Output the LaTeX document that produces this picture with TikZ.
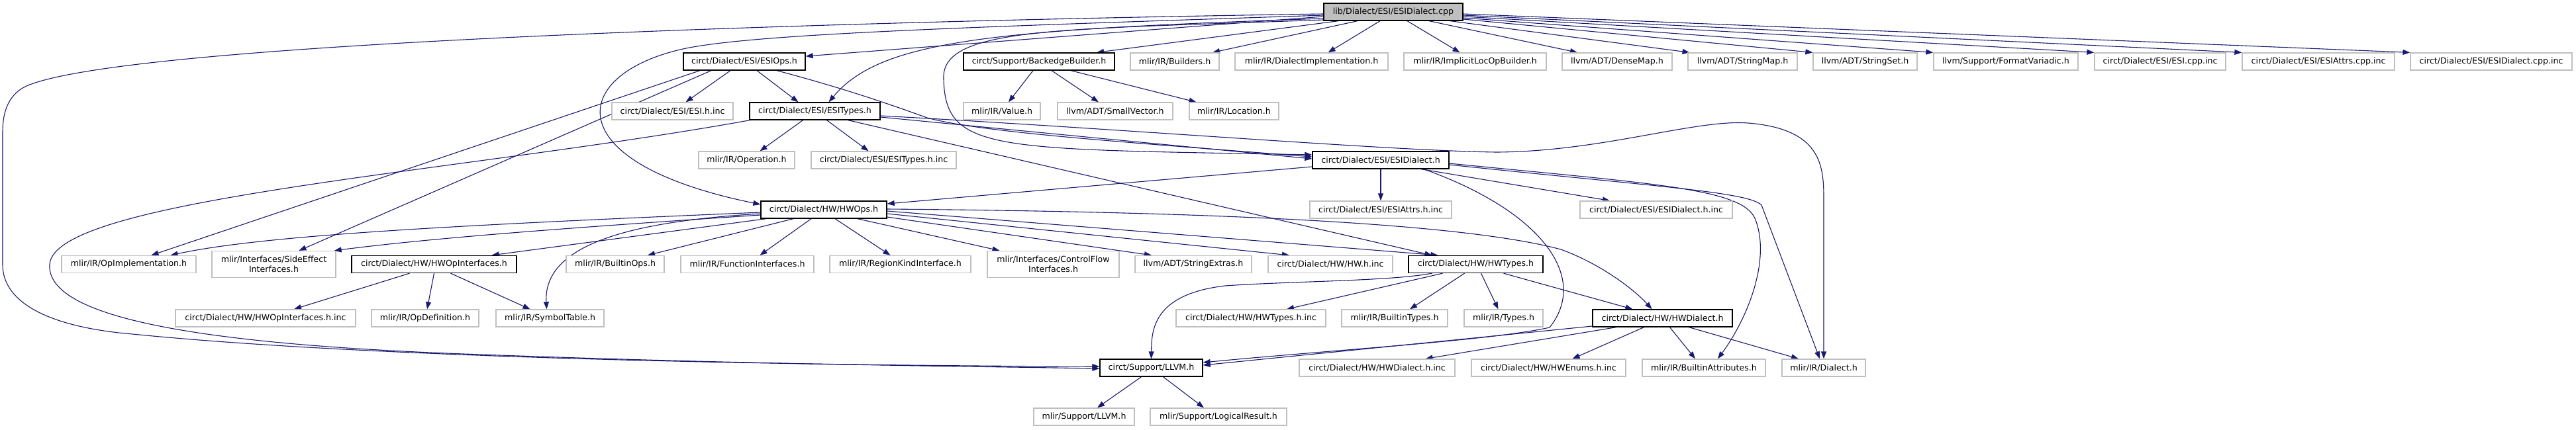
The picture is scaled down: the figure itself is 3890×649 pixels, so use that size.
\documentclass[tikz,border=0pt]{standalone}
\usepackage{fontspec}
\setmainfont{DejaVu Sans}
\usetikzlibrary{arrows.meta,backgrounds}
\definecolor{edgeblue}{HTML}{191970}
\definecolor{greyborder}{HTML}{BFBFBF}
\begin{document}
\begin{tikzpicture}[x=1pt,y=-1pt,
  box/.style={rectangle,draw=greyborder,line width=1.3pt,fill=white,inner sep=0pt,
    minimum height=26pt,font=\fontsize{12.6}{15}\selectfont,text=black,align=center},
  twoline/.style={box,minimum height=40pt},
  doc/.style={box,draw=black},
  rootbox/.style={box,draw=black,fill=greyborder},
  e/.style={draw=edgeblue,line width=1.1pt,-{Triangle[length=11pt,width=8pt]}}]
\useasboundingbox (0,0) rectangle (3890,649);
% root
\node[rootbox,minimum width=210pt] (root) at (2104,18) {lib/Dialect/ESI/ESIDialect.cpp};
% row 1
\node[doc,minimum width=184pt] (esiops) at (1124,93) {circt/Dialect/ESI/ESIOps.h};
\node[doc,minimum width=228pt] (backedge) at (1569,93) {circt/Support/BackedgeBuilder.h};
\node[box,minimum width=134pt] (builders) at (1774,93) {mlir/IR/Builders.h};
\node[box,minimum width=231pt] (dialimpl) at (1980.5,93) {mlir/IR/DialectImplementation.h};
\node[box,minimum width=215pt] (implicit) at (2227.5,93) {mlir/IR/ImplicitLocOpBuilder.h};
\node[box,minimum width=166pt] (densemap) at (2442,93) {llvm/ADT/DenseMap.h};
\node[box,minimum width=165pt] (stringmap) at (2631.5,93) {llvm/ADT/StringMap.h};
\node[box,minimum width=157pt] (stringset) at (2816.5,93) {llvm/ADT/StringSet.h};
\node[box,minimum width=218pt] (formatvar) at (3029,93) {llvm/Support/FormatVariadic.h};
\node[box,minimum width=198pt] (esicppinc) at (3262,93) {circt/Dialect/ESI/ESI.cpp.inc};
\node[box,minimum width=230pt] (attrscpp) at (3501,93) {circt/Dialect/ESI/ESIAttrs.cpp.inc};
\node[box,minimum width=244pt] (dialcpp) at (3762,93) {circt/Dialect/ESI/ESIDialect.cpp.inc};
% row 2
\node[box,minimum width=183pt] (esihinc) at (1015.5,168) {circt/Dialect/ESI/ESI.h.inc};
\node[doc,minimum width=197pt] (esitypes) at (1230.5,168) {circt/Dialect/ESI/ESITypes.h};
\node[box,minimum width=116pt] (value) at (1513,168) {mlir/IR/Value.h};
\node[box,minimum width=174pt] (smallvec) at (1684,168) {llvm/ADT/SmallVector.h};
\node[box,minimum width=135pt] (location) at (1863.5,168) {mlir/IR/Location.h};
% row 3
\node[box,minimum width=145pt] (operation) at (1127.5,242) {mlir/IR/Operation.h};
\node[box,minimum width=219pt] (esitypesinc) at (1334.5,242) {circt/Dialect/ESI/ESITypes.h.inc};
\node[doc,minimum width=206pt] (esidialect) at (2085,242) {circt/Dialect/ESI/ESIDialect.h};
% row 4
\node[doc,minimum width=190pt] (hwops) at (1244,317) {circt/Dialect/HW/HWOps.h};
\node[box,minimum width=214pt] (esiattrsinc) at (2085,317) {circt/Dialect/ESI/ESIAttrs.h.inc};
\node[box,minimum width=230pt] (esidialinc) at (2501,317) {circt/Dialect/ESI/ESIDialect.h.inc};
% row 5
\node[box,minimum width=203pt] (opimpl) at (194.5,399.5) {mlir/IR/OpImplementation.h};
\node[twoline,minimum width=187pt] (sideeffect) at (413.5,399.5) {mlir/Interfaces/SideEffect\\Interfaces.h};
\node[doc,minimum width=249pt] (hwopint) at (655.5,399.5) {circt/Dialect/HW/HWOpInterfaces.h};
\node[box,minimum width=148pt] (builtinops) at (929,399.5) {mlir/IR/BuiltinOps.h};
\node[box,minimum width=201pt] (funcint) at (1128.5,399.5) {mlir/IR/FunctionInterfaces.h};
\node[box,minimum width=213pt] (regionkind) at (1359.5,399.5) {mlir/IR/RegionKindInterface.h};
\node[twoline,minimum width=199pt] (controlflow) at (1590.5,399.5) {mlir/Interfaces/ControlFlow\\Interfaces.h};
\node[box,minimum width=176pt] (stringextras) at (1802,399.5) {llvm/ADT/StringExtras.h};
\node[box,minimum width=188pt] (hwhinc) at (2009,399.5) {circt/Dialect/HW/HW.h.inc};
\node[doc,minimum width=203pt] (hwtypes) at (2228.5,399.5) {circt/Dialect/HW/HWTypes.h};
% row 6
\node[box,minimum width=272pt] (hwopintinc) at (401,481) {circt/Dialect/HW/HWOpInterfaces.h.inc};
\node[box,minimum width=162pt] (opdef) at (642,481) {mlir/IR/OpDefinition.h};
\node[box,minimum width=163pt] (symtable) at (830.5,481) {mlir/IR/SymbolTable.h};
\node[box,minimum width=226pt] (hwtypesinc) at (1889,481) {circt/Dialect/HW/HWTypes.h.inc};
\node[box,minimum width=160pt] (builtintypes) at (2106,481) {mlir/IR/BuiltinTypes.h};
\node[box,minimum width=119pt] (types) at (2270.5,481) {mlir/IR/Types.h};
\node[doc,minimum width=211pt] (hwdialect) at (2510.5,481) {circt/Dialect/HW/HWDialect.h};
% row 7
\node[doc,minimum width=155pt] (llvm) at (1738.5,556) {circt/Support/LLVM.h};
\node[box,minimum width=235pt] (hwdialinc) at (2079.5,556) {circt/Dialect/HW/HWDialect.h.inc};
\node[box,minimum width=233pt] (hwenums) at (2338.5,556) {circt/Dialect/HW/HWEnums.h.inc};
\node[box,minimum width=186pt] (builtinattrs) at (2573,556) {mlir/IR/BuiltinAttributes.h};
\node[box,minimum width=126pt] (dialect) at (2754,556) {mlir/IR/Dialect.h};
% row 8
\node[box,minimum width=152pt] (mlirllvm) at (1637,630) {mlir/Support/LLVM.h};
\node[box,minimum width=206pt] (logical) at (1840,630) {mlir/Support/LogicalResult.h};

\begin{pgfonlayer}{background}
% root edges
\draw[e] ([yshift=-3pt]root.west) .. controls (1400,30) and (200,60) .. (40,130)
  .. controls (12,143) and (4,170) .. (4,200) -- (4,400)
  .. controls (4,460) and (80,495) .. (200,505)
  .. controls (600,545) and (1300,553) .. ([yshift=2pt]llvm.west);
\draw[e] ([yshift=-5pt]root.west) .. controls (1500,40) and (1150,50) .. (1036,73)
  .. controls (860,110) and (835,245) .. ([yshift=8pt]hwops.west);
\draw[e] ([yshift=-7pt]root.west) -- ([yshift=8pt]esiops.east);
\draw[e] ([yshift=-10pt]root.west) .. controls (1500,45) and (1330,60) .. ([xshift=21pt]esitypes.north);
\draw[e] ([yshift=-12pt]root.west) .. controls (1600,45) and (1420,40) .. (1425,120)
  .. controls (1428,230) and (1500,225) .. ([yshift=8pt]esidialect.west);
\draw[e] ([xshift=-83pt]root.south) -- ([xshift=87pt]backedge.north);
\draw[e] ([xshift=-54pt]root.south) -- ([xshift=57pt]builders.north);
\draw[e] ([xshift=-20pt]root.south) -- ([xshift=25pt]dialimpl.north);
\draw[e] ([xshift=21pt]root.south) -- ([xshift=-23pt]implicit.north);
\draw[e] ([xshift=54pt]root.south) -- ([xshift=-60pt]densemap.north);
\draw[e] ([xshift=86pt]root.south) -- ([xshift=-80pt]stringmap.north);
\draw[e] ([yshift=-11pt]root.east) -- (stringset.north west);
\draw[e] ([yshift=-9pt]root.east) -- (formatvar.north west);
\draw[e] ([yshift=-7pt]root.east) -- (esicppinc.north west);
\draw[e] ([yshift=-5pt]root.east) -- (attrscpp.north west);
\draw[e] ([yshift=-3pt]root.east) -- (dialcpp.north west);
% ESIOps
\draw[e] ([xshift=-67pt]esiops.south) -- ([xshift=34pt]opimpl.north);
\draw[e] ([xshift=-50pt]esiops.south) -- ([xshift=38pt]sideeffect.north);
\draw[e] ([xshift=-21pt]esiops.south) -- ([xshift=20pt]esihinc.north);
\draw[e] ([xshift=19pt]esiops.south) -- ([xshift=-25pt]esitypes.north);
\draw[e] ([xshift=49pt]esiops.south) .. controls (1280,135) and (1350,160) .. (1400,178)
  .. controls (1480,200) and (1700,215) .. ([yshift=5pt]esidialect.west);
% BackedgeBuilder
\draw[e] ([xshift=-9pt]backedge.south) -- ([xshift=10pt]value.north);
\draw[e] ([xshift=19pt]backedge.south) -- ([xshift=-25pt]smallvec.north);
\draw[e] ([xshift=48pt]backedge.south) -- ([xshift=-57pt]location.north);
% ESITypes
\draw[e] ([yshift=-9pt]esitypes.east) -- ([yshift=2pt]esidialect.west);
\draw[e] ([yshift=-7pt]esitypes.east) .. controls (1700,195) and (2100,228) .. (2260,230)
  .. controls (2420,229) and (2560,180) .. (2640,186)
  .. controls (2750,195) and (2754,250) .. (2754,300) -- (dialect.north);
\draw[e] ([xshift=50pt]esitypes.south) -- ([xshift=-66pt]hwtypes.north);
\draw[e] ([xshift=-18pt]esitypes.south) -- ([xshift=20pt]operation.north);
\draw[e] ([xshift=18pt]esitypes.south) -- ([xshift=-23pt]esitypesinc.north);
\draw[e] ([xshift=-98pt]esitypes.south) .. controls (700,260) and (80,300) .. (75,400)
  .. controls (70,480) and (300,520) .. (700,535)
  .. controls (1100,550) and (1400,553) .. ([yshift=-1pt]llvm.west);
% ESIDialect
\draw[e] ([yshift=-10pt]esidialect.west) -- ([yshift=9pt]hwops.east);
\draw[e] (esidialect.south) -- (esiattrsinc.north);
\draw[e] ([xshift=61pt]esidialect.south) -- ([xshift=-70pt]esidialinc.north);
\draw[e] ([xshift=65pt]esidialect.south) .. controls (2330,320) and (2400,420) .. (2340,495)
  .. controls (2250,515) and (2000,530) .. ([yshift=8pt]llvm.east);
\draw[e] ([yshift=-5pt]esidialect.east) .. controls (2500,278) and (2630,285) .. (2650,330)
  .. controls (2675,390) and (2640,480) .. ([xshift=21pt]builtinattrs.north);
\draw[e] ([yshift=-7pt]esidialect.east) .. controls (2500,282) and (2640,290) .. (2660,310)
  -- ([xshift=-6pt]dialect.north);
% HWOps
\draw[e] ([yshift=-4pt]hwops.west) .. controls (700,340) and (400,355) .. ([xshift=63pt]opimpl.north);
\draw[e] ([yshift=-8pt]hwops.west) .. controls (850,345) and (650,360) .. ([xshift=-3pt]sideeffect.north east);
\draw[e] ([xshift=-87pt]hwops.south) -- ([xshift=87pt]hwopint.north);
\draw[e] ([yshift=-6pt]hwops.west) .. controls (950,335) and (820,370) .. ([xshift=-5pt]symtable.north);
\draw[e] ([xshift=-46pt]hwops.south) -- ([xshift=49pt]builtinops.north);
\draw[e] ([xshift=-19pt]hwops.south) -- ([xshift=19pt]funcint.north);
\draw[e] ([xshift=17pt]hwops.south) -- ([xshift=-15pt]regionkind.north);
\draw[e] ([xshift=51pt]hwops.south) -- ([xshift=-81pt]controlflow.north);
\draw[e] ([yshift=-11pt]hwops.east) -- ([xshift=-63pt]stringextras.north);
\draw[e] ([yshift=-6pt]hwops.east) -- ([xshift=-62pt]hwhinc.north);
\draw[e] ([yshift=-2pt]hwops.east) -- ([xshift=-57pt]hwtypes.north);
\draw[e] ([yshift=1pt]hwops.east) .. controls (1800,320) and (2200,335) .. (2357,377)
  .. controls (2420,400) and (2470,440) .. ([xshift=-16pt]hwdialect.north);
% HWOpInterfaces
\draw[e] ([xshift=-37pt]hwopint.south) -- ([xshift=43pt]hwopintinc.north);
\draw[e] (hwopint.south) -- ([xshift=3pt]opdef.north);
\draw[e] ([xshift=25pt]hwopint.south) -- ([xshift=-30pt]symtable.north);
% HWTypes
\draw[e] ([xshift=-66pt]hwtypes.south) .. controls (2100,425) and (1950,425) .. (1850,432)
  .. controls (1740,445) and (1739,500) .. (llvm.north);
\draw[e] ([xshift=-50pt]hwtypes.south) -- ([xshift=54pt]hwtypesinc.north);
\draw[e] ([xshift=-17pt]hwtypes.south) -- ([xshift=23pt]builtintypes.north);
\draw[e] ([xshift=8pt]hwtypes.south) -- ([xshift=-8pt]types.north);
\draw[e] ([xshift=42pt]hwtypes.south) -- ([xshift=-45pt]hwdialect.north);
% HWDialect
\draw[e] ([yshift=-12pt]hwdialect.west) -- ([yshift=4pt]llvm.east);
\draw[e] ([xshift=-70pt]hwdialect.south) -- ([xshift=73pt]hwdialinc.north);
\draw[e] ([xshift=-28pt]hwdialect.south) -- ([xshift=36pt]hwenums.north);
\draw[e] ([xshift=11pt]hwdialect.south) -- ([xshift=-13pt]builtinattrs.north);
\draw[e] ([xshift=40pt]hwdialect.south) -- ([xshift=-38pt]dialect.north);
% LLVM
\draw[e] ([xshift=-15pt]llvm.south) -- ([xshift=20pt]mlirllvm.north);
\draw[e] ([xshift=18pt]llvm.south) -- ([xshift=-22pt]logical.north);
\end{pgfonlayer}
\end{tikzpicture}
\end{document}
